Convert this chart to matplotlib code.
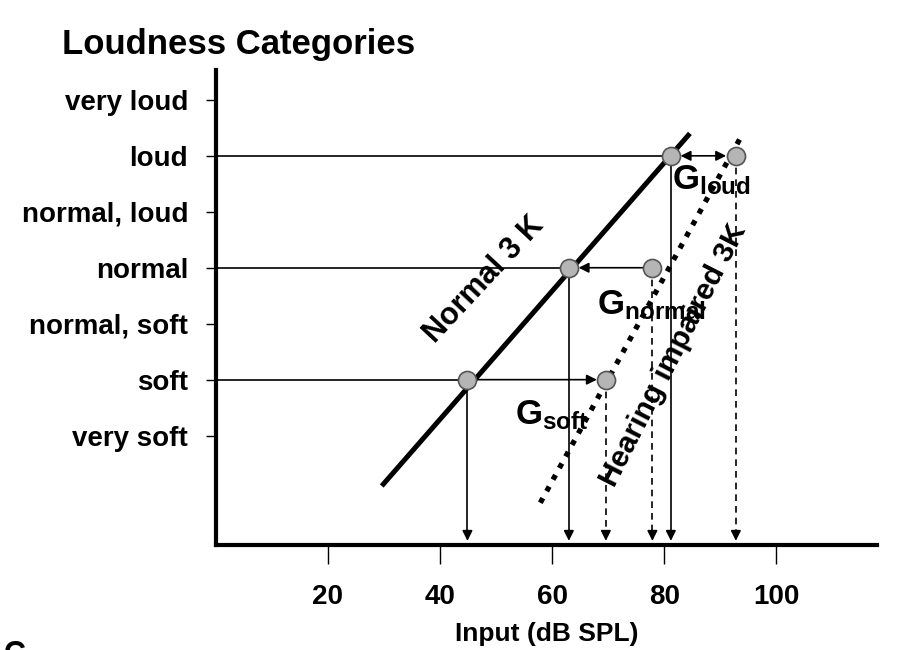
import matplotlib
matplotlib.use("Agg")
import matplotlib.pyplot as plt

# loudness categories on the y axis (1 = very soft ... 7 = very loud)
levels = ["very soft", "soft", "normal, soft", "normal", "normal, loud", "loud", "very loud"]
level_y = [1, 2, 3, 4, 5, 6, 7]
x_ticks = [20, 40, 60, 80, 100]

# input levels (dB SPL) needed to reach soft / normal / loud
normal_x = [44.9, 63.0, 81.2]
normal_y = [2, 4, 6]
impaired_x = [69.6, 77.9, 92.8]
impaired_y = [2, 4, 6]

# growth functions
normal_line_x = [29.6, 84.6]
normal_line_y = [0.1, 6.4]
impaired_line_x = [57.9, 94.1]
impaired_line_y = [-0.2, 6.41]

plt.rcParams["font.family"] = "Liberation Sans"
plt.rcParams["font.weight"] = "bold"
plt.rcParams["mathtext.fontset"] = "custom"
plt.rcParams["mathtext.bf"] = "Liberation Sans:bold"
plt.rcParams["mathtext.rm"] = "Liberation Sans:bold"

fig = plt.figure(figsize=(9.07, 6.5), dpi=100)
ax = fig.add_axes([0.238, 0.1615, 0.729, 0.7305])
ymin, ymax = -0.955, 7.53
ax.set_xlim(0, 118)
ax.set_ylim(ymin, ymax)

for side in ["top", "right"]:
    ax.spines[side].set_visible(False)
for side in ["left", "bottom"]:
    ax.spines[side].set_linewidth(3)

ax.set_xticks(x_ticks)
ax.set_xticklabels([str(v) for v in x_ticks])
ax.set_yticks(level_y)
ax.set_yticklabels(levels)
ax.tick_params(axis="x", direction="out", length=14, width=1, pad=14, labelsize=20)
ax.tick_params(axis="y", direction="out", length=7, width=1, pad=13, labelsize=20)
ax.set_xlabel("Input (dB SPL)", fontsize=19, fontweight="bold", labelpad=9)

# lines
ax.plot(normal_line_x, normal_line_y, color="black", lw=3.6, solid_capstyle="butt", zorder=3)
ax.plot(impaired_line_x, impaired_line_y, color="black", lw=3.8,
        linestyle=(0, (1, 1.5)), dash_capstyle="butt", zorder=3)

# horizontal lines from the axis to the normal points
for nx, ny in zip(normal_x, normal_y):
    ax.plot([0, nx], [ny, ny], color="black", lw=1.2, zorder=2)

# gain arrows
arr = dict(arrowstyle="-|>", color="black", lw=1.2, mutation_scale=15)
ax.annotate("", xy=(impaired_x[0], impaired_y[0]), xytext=(normal_x[0], normal_y[0]),
            arrowprops=dict(arr, shrinkA=0, shrinkB=6.5), zorder=2)
ax.annotate("", xy=(normal_x[1], normal_y[1]), xytext=(impaired_x[1], impaired_y[1]),
            arrowprops=dict(arr, shrinkA=0, shrinkB=7), zorder=2)
ax.annotate("", xy=(impaired_x[2], impaired_y[2]), xytext=(normal_x[2], normal_y[2]),
            arrowprops=dict(arr, arrowstyle="<|-|>", shrinkA=7, shrinkB=7), zorder=2)

# vertical arrows down to the x axis
for xs, ys, ls in [(normal_x, normal_y, "-"), (impaired_x, impaired_y, (0, (4, 3)))]:
    for x, y in zip(xs, ys):
        ax.plot([x, x], [y, ymin + 0.2], color="black", lw=1.2, linestyle=ls, zorder=2)
        ax.annotate("", xy=(x, ymin), xytext=(x, ymin + 0.22),
                    arrowprops=dict(arr, shrinkA=0, shrinkB=3), zorder=2)

# points
ax.plot(normal_x + impaired_x, normal_y + impaired_y, "o", ms=13, mfc="#b5b5b5",
        mec="#555555", mew=1.2, linestyle="none", zorder=5)

# labels
ax.text(47.9, 3.78, "Normal 3 K", rotation=47, fontsize=22, fontweight="bold",
        ha="center", va="center", rotation_mode="anchor", zorder=4)
ax.text(81.6, 2.44, "Hearing impaired 3K", rotation=63, fontsize=21.5, fontweight="bold",
        ha="center", va="center", rotation_mode="anchor", zorder=4)
ax.text(81.4, 5.57, r"$\mathbf{G_{loud}}$", fontsize=25, ha="left", va="center", zorder=1)
ax.text(68.0, 3.33, r"$\mathbf{G_{normal}}$", fontsize=25, ha="left", va="center", zorder=1)
ax.text(53.4, 1.37, r"$\mathbf{G_{soft}}$", fontsize=25, ha="left", va="center", zorder=1)

fig.text(0.068, 0.931, "Loudness Categories", fontsize=25, fontweight="bold",
         ha="left", va="center")
fig.text(0.004, 0.016, "C", fontsize=22, fontweight="bold", ha="left", va="top")

fig.savefig("out.png", dpi=100)
